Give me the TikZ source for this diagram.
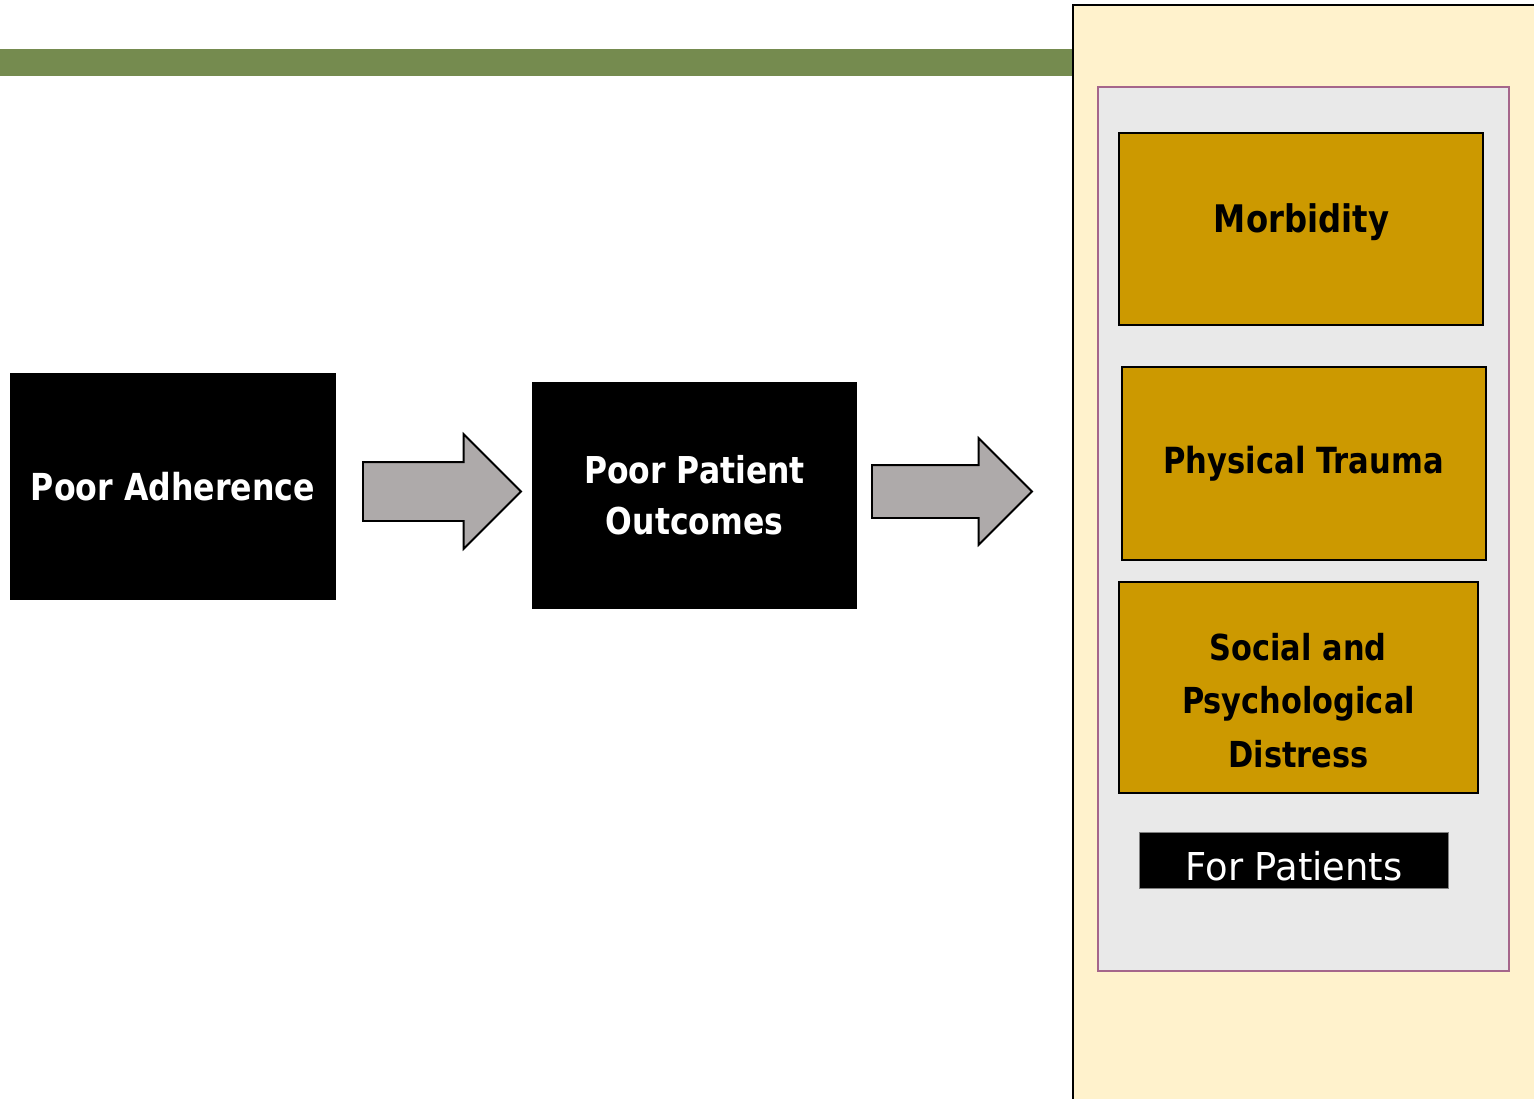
\documentclass[tikz,border=0pt]{standalone}
\usepackage{fontspec}
\usetikzlibrary{shapes.arrows}
\newfontfamily\boxfont[FakeStretch=0.85]{DejaVu Sans}
\newfontfamily\tagfont[FakeStretch=0.96]{DejaVu Sans}
\newcommand\boldat[1]{\boxfont\bfseries\fontsize{#1}{#1}\selectfont}
\definecolor{bandgreen}{HTML}{758B4F}
\definecolor{panelyellow}{HTML}{FFF2CC}
\definecolor{panelgray}{HTML}{E9E9E9}
\definecolor{panelrim}{HTML}{A5668B}
\definecolor{gold}{HTML}{CC9900}
\definecolor{arrowgray}{HTML}{AEAAAA}
\begin{document}
\begin{tikzpicture}[x=1pt,y=-1pt,
  blackbox/.style={fill=black,draw=none,inner sep=0,outer sep=0},
  goldbox/.style={fill=gold,draw=black,line width=2pt,inner sep=0,outer sep=0},
  tagbox/.style={fill=black,draw=black!50,line width=1pt,inner sep=0,outer sep=0},
  blockarrow/.style={single arrow,fill=arrowgray,draw=black,line width=1.8pt,
    inner xsep=0,outer sep=0,single arrow tip angle=90,anchor=tail},
  txt/.style={anchor=base,inner sep=0,outer sep=0}]
\useasboundingbox (0,0) rectangle (1534,1099);

% top band and side panels
\fill[bandgreen] (0,49) rectangle (1073,76);
\draw[fill=panelyellow,line width=2pt] (1073,5) rectangle (1560,1120);
\draw[fill=panelgray,draw=panelrim,line width=2pt] (1098,87) rectangle (1509,971);

% flow boxes
\node[blackbox,minimum width=326pt,minimum height=227pt] (adh) at (173,486.5) {};
\node[blackbox,minimum width=325pt,minimum height=227pt] (out) at (694.5,495.5) {};

% block arrows
\node[blockarrow,minimum height=158pt,inner ysep=28.5pt,single arrow head extend=28pt] (a1) at (363,491.5) {};
\node[blockarrow,minimum height=160pt,inner ysep=25.5pt,single arrow head extend=27pt] (a2) at (872,491.5) {};

% outcome boxes
\node[goldbox,minimum width=364pt,minimum height=192pt] (morb) at (1301,229) {};
\node[goldbox,minimum width=364pt,minimum height=193pt] (trauma) at (1304,463.5) {};
\node[goldbox,minimum width=359pt,minimum height=211pt] (social) at (1298.5,687.5) {};
\node[tagbox,minimum width=309pt,minimum height=56pt] (tag) at (1293.5,860) {};

% labels
\node[txt,text=white,font=\boldat{37.2}] (tadh) at (173,500) {Poor Adherence};
\node[txt,text=white,font=\boldat{37}] (tout1) at (694.5,483) {Poor Patient};
\node[txt,text=white,font=\boldat{37}] (tout2) at (694.5,534) {Outcomes};
\node[txt,font=\boldat{38}] (tmorb) at (1301.5,233) {Morbidity};
\node[txt,font=\boldat{36}] (ttrauma) at (1303.5,473) {Physical Trauma};
\node[txt,font=\boldat{35.8}] (tsoc1) at (1298,660) {Social and};
\node[txt,font=\boldat{35.8}] (tsoc2) at (1298.5,713) {Psychological};
\node[txt,font=\boldat{35.8}] (tsoc3) at (1298.5,767) {Distress};
\node[txt,text=white,font=\tagfont\fontsize{38.4}{38.4}\selectfont] (ttag) at (1294,880) {For Patients};
\end{tikzpicture}
\end{document}
